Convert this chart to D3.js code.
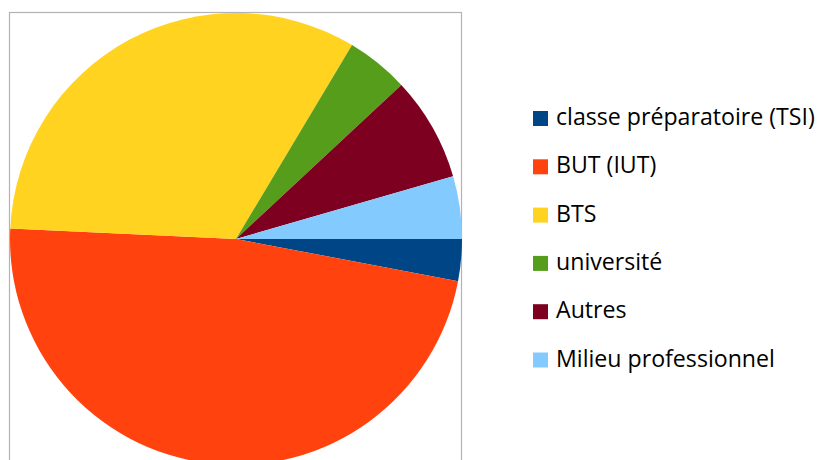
<!DOCTYPE html>
<html>
<head>
<meta charset="utf-8">
<script src="https://cdn.jsdelivr.net/npm/d3@7"></script>
<style>
  html, body { margin: 0; padding: 0; background: #fff; }
  svg { display: block; }
</style>
</head>
<body>
<svg id="chart" width="819" height="460"></svg>
<script>
const categories = ["classe préparatoire (TSI)", "BUT (IUT)", "BTS", "université", "Autres", "Milieu professionnel"];
const values = [2, 32, 22, 3, 5, 3];
const colors = ["#004586", "#ff420e", "#ffd320", "#579d1c", "#7e0021", "#83caff"];

const svg = d3.select("#chart");
const cx = 236, cy = 239, r = 226;

// border frame
svg.append("rect")
  .attr("x", 9.5).attr("y", 12.5)
  .attr("width", 452).attr("height", 470)
  .attr("fill", "none")
  .attr("stroke", "#b3b3b3")
  .attr("stroke-width", 1.2);

const data = categories.map((c, i) => ({ name: c, value: values[i], color: colors[i] }));
const pie = d3.pie().sort(null).value(d => d.value)
  .startAngle(Math.PI / 2).endAngle(Math.PI / 2 + 2 * Math.PI);
const arc = d3.arc().innerRadius(0).outerRadius(r);

svg.append("g").attr("transform", `translate(${cx},${cy})`)
  .selectAll("path").data(pie(data)).join("path")
  .attr("d", arc)
  .attr("fill", d => d.data.color);

const legend = svg.append("g");
const rowY = d3.scaleLinear().domain([0, 5]).range([125, 366.5]);
const rows = legend.selectAll("g").data(data).join("g")
  .attr("transform", (d, i) => `translate(0,${rowY(i)})`);
rows.append("rect")
  .attr("x", 533).attr("y", -14).attr("width", 15).attr("height", 15)
  .attr("fill", d => d.color);
const texts = rows.append("text")
  .attr("x", 556).attr("y", 0)
  .attr("font-family", "'Open Sans', sans-serif")
  .attr("font-size", 22)
  .attr("fill", "#000")
  .text(d => d.name);
// fit the longest label to the reference width (~259px)
const w0 = texts.nodes()[0].getComputedTextLength();
if (w0 > 0) {
  const fs = Math.max(19, Math.min(24, 22 * 259 / w0));
  texts.attr("font-size", fs);
}
</script>
</body>
</html>
